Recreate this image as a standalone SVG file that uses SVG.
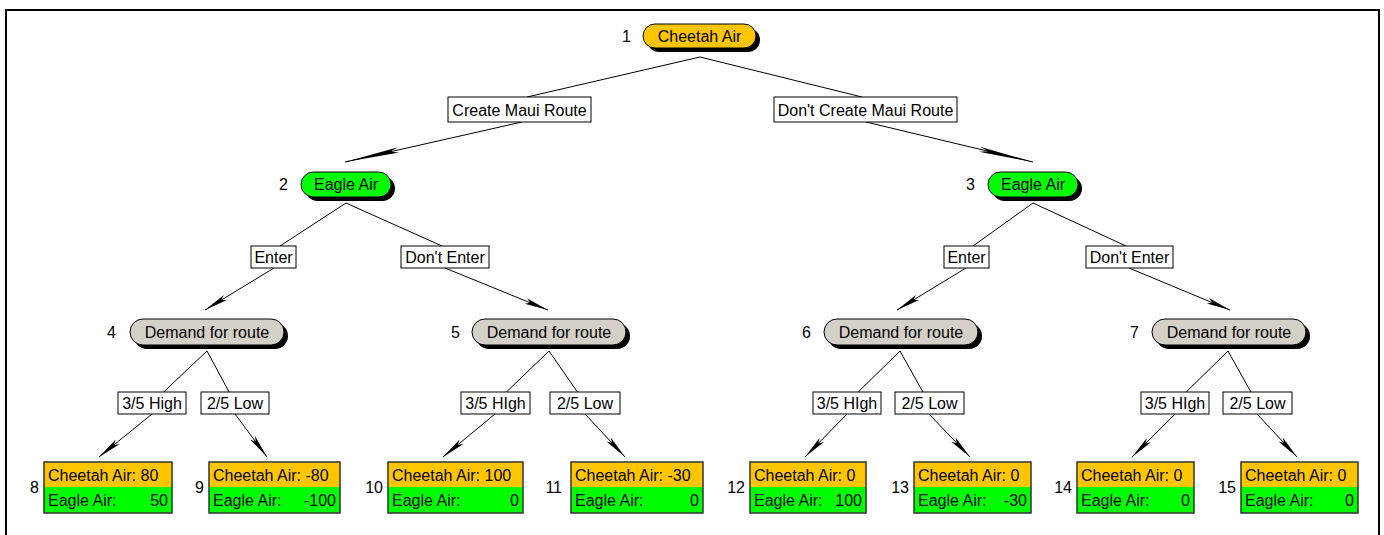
<svg xmlns="http://www.w3.org/2000/svg" width="1384" height="535" viewBox="0 0 1384 535">
  <style>
    text { font-family: "Liberation Sans", Arial, sans-serif; font-size: 16px; fill: #000; }
    .c { text-anchor: middle; }
    .e { text-anchor: end; }
    .shadow { fill: #000; }
    .pill { stroke: #000; stroke-width: 1; }
    .orange { fill: #FFC600; }
    .green { fill: #00FF00; }
    .grey { fill: #D4D0C8; }
    .lbl { fill: #fff; stroke: #000; stroke-width: 1; }
    .edge { stroke: #000; stroke-width: 1; fill: none; }
    .arr { stroke: #000; stroke-width: 1; fill: none; }
    .long { marker-end: url(#headLong); }
    .short { marker-end: url(#headShort); }
    .box { fill: none; stroke: #333; stroke-width: 1.5; }
    .frame { fill: none; stroke: #000; stroke-width: 2; }
  </style>
  <defs>
    <marker id="headLong" viewBox="-60 -4 62 8" markerWidth="62" markerHeight="8" refX="0" refY="0" orient="auto" markerUnits="userSpaceOnUse">
      <path d="M0,0 L-55,-2.6 L-46,0 L-55,2.6 Z" fill="#000"/>
    </marker>
    <marker id="headShort" viewBox="-28 -4 30 8" markerWidth="30" markerHeight="8" refX="0" refY="0" orient="auto" markerUnits="userSpaceOnUse">
      <path d="M0,0 L-24,-3 L-19,0 L-24,3 Z" fill="#000"/>
    </marker>
  </defs>

  <rect width="1384" height="535" fill="#fff"/>
  <path class="frame" d="M6,535 V10 H1379 V535"/>

  <!-- connectors -->
  <g id="connectors">
    <!-- from node 1 -->
    <line class="edge" x1="700" y1="57" x2="527" y2="97"/>
    <line class="edge" x1="700" y1="57" x2="862" y2="97"/>
    <line class="arr long" x1="522" y1="122" x2="345" y2="162"/>
    <line class="arr long" x1="866" y1="122" x2="1033" y2="162"/>
    <!-- from node 2 -->
    <line class="edge" x1="346" y1="203" x2="280" y2="246"/>
    <line class="edge" x1="346" y1="203" x2="442" y2="246"/>
    <line class="arr short" x1="274" y1="268" x2="205" y2="310"/>
    <line class="arr short" x1="445" y1="268" x2="548" y2="310"/>
    <!-- from node 3 -->
    <line class="edge" x1="1033" y1="203" x2="973" y2="246"/>
    <line class="edge" x1="1033" y1="203" x2="1126" y2="246"/>
    <line class="arr short" x1="966" y1="268" x2="897" y2="310"/>
    <line class="arr short" x1="1129" y1="268" x2="1230" y2="310"/>
    <!-- from node 4 -->
    <line class="edge" x1="207" y1="351" x2="152" y2="403"/>
    <line class="edge" x1="207" y1="351" x2="235" y2="403"/>
    <line class="arr short" x1="152" y1="414" x2="99" y2="457"/>
    <line class="arr short" x1="235" y1="414" x2="267" y2="457"/>
    <!-- from node 5 -->
    <line class="edge" x1="549" y1="351" x2="495" y2="403"/>
    <line class="edge" x1="549" y1="351" x2="585" y2="403"/>
    <line class="arr short" x1="495" y1="414" x2="443" y2="457"/>
    <line class="arr short" x1="585" y1="414" x2="625" y2="457"/>
    <!-- from node 6 -->
    <line class="edge" x1="900" y1="351" x2="847" y2="403"/>
    <line class="edge" x1="900" y1="351" x2="929" y2="403"/>
    <line class="arr short" x1="847" y1="414" x2="805" y2="457"/>
    <line class="arr short" x1="929" y1="414" x2="970" y2="457"/>
    <!-- from node 7 -->
    <line class="edge" x1="1228" y1="351" x2="1175" y2="403"/>
    <line class="edge" x1="1228" y1="351" x2="1257" y2="403"/>
    <line class="arr short" x1="1175" y1="414" x2="1132" y2="457"/>
    <line class="arr short" x1="1257" y1="414" x2="1297" y2="457"/>
  </g>

  <!-- branch labels -->
  <g id="labels">
    <rect class="lbl" x="448" y="97" width="143" height="25"/>
    <text class="c" x="519.5" y="115.5">Create Maui Route</text>
    <rect class="lbl" x="774" y="97" width="183" height="25"/>
    <text class="c" x="865.5" y="115.5">Don't Create Maui Route</text>

    <rect class="lbl" x="251" y="246" width="45" height="22"/>
    <text class="c" x="273.5" y="263">Enter</text>
    <rect class="lbl" x="401" y="246" width="88" height="22"/>
    <text class="c" x="445" y="263">Don't Enter</text>
    <rect class="lbl" x="944" y="246" width="45" height="22"/>
    <text class="c" x="966.5" y="263">Enter</text>
    <rect class="lbl" x="1086" y="246" width="87" height="22"/>
    <text class="c" x="1129.5" y="263">Don't Enter</text>

    <rect class="lbl" x="118" y="392" width="68" height="22"/>
    <text class="c" x="152" y="409">3/5 High</text>
    <rect class="lbl" x="201" y="392" width="68" height="22"/>
    <text class="c" x="235" y="409">2/5 Low</text>
    <rect class="lbl" x="461" y="392" width="69" height="22"/>
    <text class="c" x="495.5" y="409">3/5 HIgh</text>
    <rect class="lbl" x="550" y="392" width="70" height="22"/>
    <text class="c" x="585" y="409">2/5 Low</text>
    <rect class="lbl" x="813" y="392" width="68" height="22"/>
    <text class="c" x="847" y="409">3/5 HIgh</text>
    <rect class="lbl" x="895" y="392" width="69" height="22"/>
    <text class="c" x="929.5" y="409">2/5 Low</text>
    <rect class="lbl" x="1141" y="392" width="68" height="22"/>
    <text class="c" x="1175" y="409">3/5 HIgh</text>
    <rect class="lbl" x="1223" y="392" width="69" height="22"/>
    <text class="c" x="1257.5" y="409">2/5 Low</text>
  </g>

  <!-- decision / chance nodes -->
  <g id="n1">
    <rect class="shadow" x="647" y="28" width="113" height="24" rx="12"/>
    <rect class="pill orange" x="643" y="24" width="113" height="24" rx="12"/>
    <text class="c" x="699.5" y="41.5">Cheetah Air</text>
    <text class="e" x="631" y="41.5">1</text>
  </g>
  <g id="n2">
    <rect class="shadow" x="305" y="176" width="90" height="25" rx="12.5"/>
    <rect class="pill green" x="301" y="172" width="90" height="25" rx="12.5"/>
    <text class="c" x="346" y="190">Eagle Air</text>
    <text class="e" x="288" y="190">2</text>
  </g>
  <g id="n3">
    <rect class="shadow" x="992" y="176" width="90" height="25" rx="12.5"/>
    <rect class="pill green" x="988" y="172" width="90" height="25" rx="12.5"/>
    <text class="c" x="1033" y="190">Eagle Air</text>
    <text class="e" x="975" y="190">3</text>
  </g>
  <g id="n4">
    <rect class="shadow" x="134" y="323" width="154" height="26" rx="13"/>
    <rect class="pill grey" x="130" y="319" width="154" height="26" rx="13"/>
    <text class="c" x="207" y="337.5">Demand for route</text>
    <text class="e" x="116" y="337.5">4</text>
  </g>
  <g id="n5">
    <rect class="shadow" x="476" y="323" width="154" height="26" rx="13"/>
    <rect class="pill grey" x="472" y="319" width="154" height="26" rx="13"/>
    <text class="c" x="549" y="337.5">Demand for route</text>
    <text class="e" x="460" y="337.5">5</text>
  </g>
  <g id="n6">
    <rect class="shadow" x="828" y="323" width="154" height="26" rx="13"/>
    <rect class="pill grey" x="824" y="319" width="154" height="26" rx="13"/>
    <text class="c" x="901" y="337.5">Demand for route</text>
    <text class="e" x="811" y="337.5">6</text>
  </g>
  <g id="n7">
    <rect class="shadow" x="1156" y="323" width="154" height="26" rx="13"/>
    <rect class="pill grey" x="1152" y="319" width="154" height="26" rx="13"/>
    <text class="c" x="1229" y="337.5">Demand for route</text>
    <text class="e" x="1139" y="337.5">7</text>
  </g>

  <!-- payoff leaves -->
  <g id="n8">
    <rect class="orange" x="44" y="462" width="128" height="25"/>
    <rect class="green" x="44" y="487" width="128" height="26"/>
    <rect class="box" x="44" y="462" width="128" height="51"/>
    <text x="48" y="480.5">Cheetah Air: 80</text>
    <text x="48" y="506">Eagle Air:</text>
    <text class="e" x="168" y="506">50</text>
    <text class="e" x="39" y="493">8</text>
  </g>
  <g id="n9">
    <rect class="orange" x="209" y="462" width="131" height="25"/>
    <rect class="green" x="209" y="487" width="131" height="26"/>
    <rect class="box" x="209" y="462" width="131" height="51"/>
    <text x="213" y="480.5">Cheetah Air: -80</text>
    <text x="213" y="506">Eagle Air:</text>
    <text class="e" x="336" y="506">-100</text>
    <text class="e" x="204" y="493">9</text>
  </g>
  <g id="n10">
    <rect class="orange" x="388" y="462" width="135" height="25"/>
    <rect class="green" x="388" y="487" width="135" height="26"/>
    <rect class="box" x="388" y="462" width="135" height="51"/>
    <text x="392" y="480.5">Cheetah Air: 100</text>
    <text x="392" y="506">Eagle Air:</text>
    <text class="e" x="519" y="506">0</text>
    <text class="e" x="383" y="493">10</text>
  </g>
  <g id="n11">
    <rect class="orange" x="571" y="462" width="132" height="25"/>
    <rect class="green" x="571" y="487" width="132" height="26"/>
    <rect class="box" x="571" y="462" width="132" height="51"/>
    <text x="575" y="480.5">Cheetah Air: -30</text>
    <text x="575" y="506">Eagle Air:</text>
    <text class="e" x="699" y="506">0</text>
    <text class="e" x="562" y="493">11</text>
  </g>
  <g id="n12">
    <rect class="orange" x="750" y="462" width="116" height="25"/>
    <rect class="green" x="750" y="487" width="116" height="26"/>
    <rect class="box" x="750" y="462" width="116" height="51"/>
    <text x="754" y="480.5">Cheetah Air: 0</text>
    <text x="754" y="506">Eagle Air:</text>
    <text class="e" x="862" y="506">100</text>
    <text class="e" x="745" y="493">12</text>
  </g>
  <g id="n13">
    <rect class="orange" x="914" y="462" width="117" height="25"/>
    <rect class="green" x="914" y="487" width="117" height="26"/>
    <rect class="box" x="914" y="462" width="117" height="51"/>
    <text x="918" y="480.5">Cheetah Air: 0</text>
    <text x="918" y="506">Eagle Air:</text>
    <text class="e" x="1027" y="506">-30</text>
    <text class="e" x="909" y="493">13</text>
  </g>
  <g id="n14">
    <rect class="orange" x="1077" y="462" width="117" height="25"/>
    <rect class="green" x="1077" y="487" width="117" height="26"/>
    <rect class="box" x="1077" y="462" width="117" height="51"/>
    <text x="1081" y="480.5">Cheetah Air: 0</text>
    <text x="1081" y="506">Eagle Air:</text>
    <text class="e" x="1190" y="506">0</text>
    <text class="e" x="1072" y="493">14</text>
  </g>
  <g id="n15">
    <rect class="orange" x="1241" y="462" width="117" height="25"/>
    <rect class="green" x="1241" y="487" width="117" height="26"/>
    <rect class="box" x="1241" y="462" width="117" height="51"/>
    <text x="1245" y="480.5">Cheetah Air: 0</text>
    <text x="1245" y="506">Eagle Air:</text>
    <text class="e" x="1354" y="506">0</text>
    <text class="e" x="1236" y="493">15</text>
  </g>
</svg>
